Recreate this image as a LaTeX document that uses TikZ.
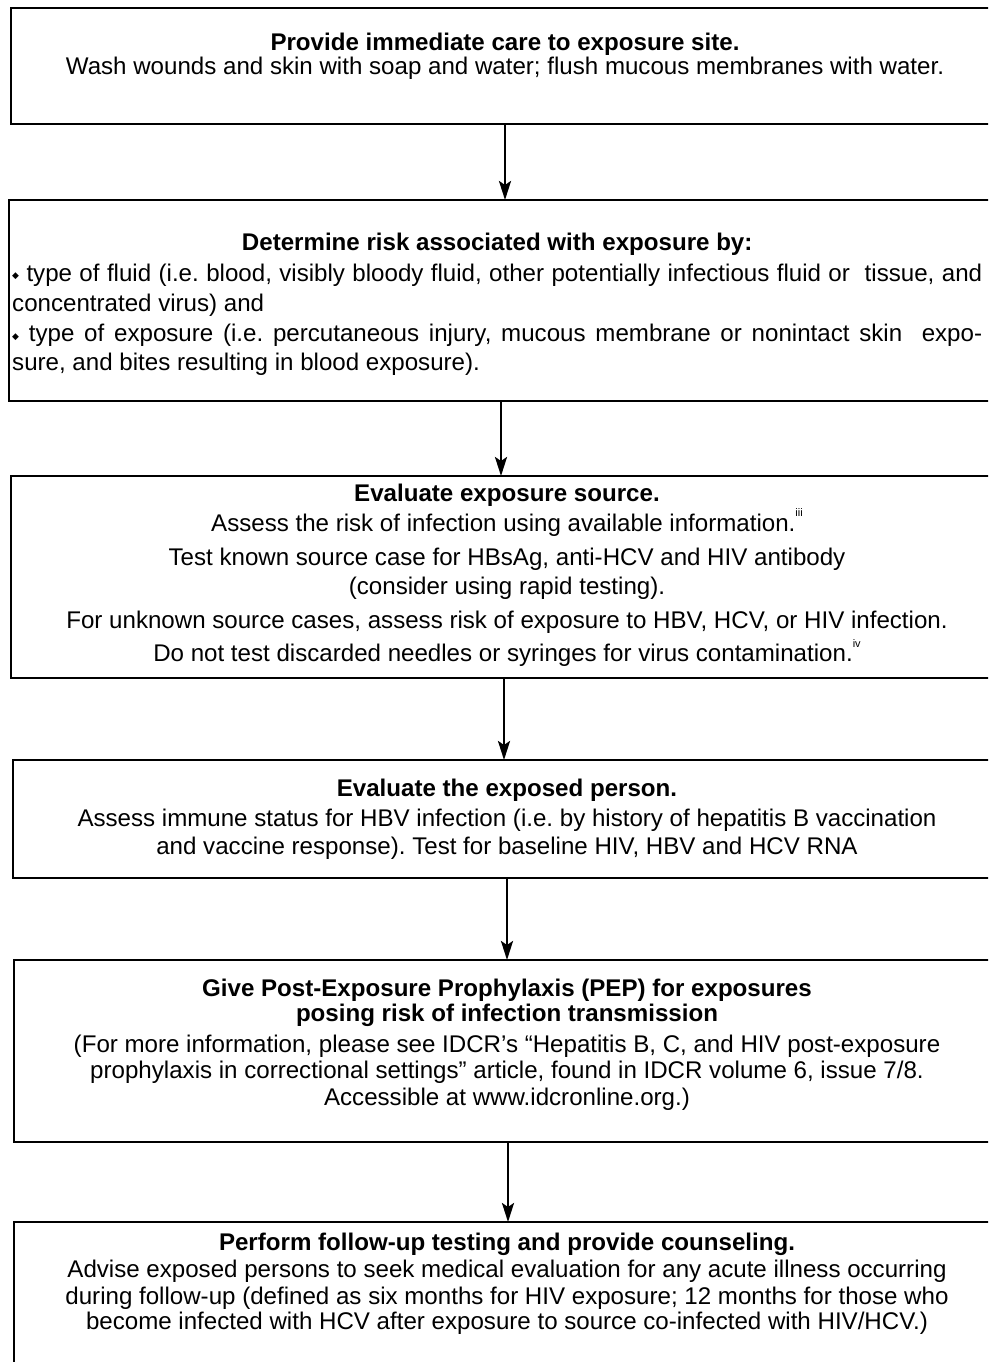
\documentclass[tikz,border=0pt]{standalone}
\usepackage{fontspec}
\setmainfont{Liberation Sans}
\newfontfamily\dejavu{DejaVu Sans}
\usetikzlibrary{arrows.meta}
\frenchspacing
\newcommand\bul{{\dejavu\fontsize{9}{9}\selectfont\raisebox{0.25em}{◆}}}
\newcommand\supr[1]{\smash{\raisebox{0.6em}{\fontsize{11}{11}\selectfont #1}}}
\begin{document}
\begin{tikzpicture}[x=1bp,y=-1bp,
  box/.style={draw, line width=2bp, inner sep=0pt, outer sep=0pt, rectangle},
  txt/.style={inner sep=0pt, font=\fontsize{24.2}{25}\selectfont\frenchspacing, align=center, anchor=north},
  arr/.style={line width=2.5bp, -{Stealth[length=19bp,width=12bp,inset=4bp]}}]
\useasboundingbox (0,0) rectangle (988,1362);
\clip (0,0) rectangle (988,1362);
\fill[white] (0,0) rectangle (988,1362);
% boxes
\node[box, minimum width=989bp, minimum height=116bp] (b1) at (505.5,66) {};
\node[box, minimum width=991bp, minimum height=201bp] (b2) at (504.5,300.5) {};
\node[box, minimum width=989bp, minimum height=202bp] (b3) at (505.5,577) {};
\node[box, minimum width=987bp, minimum height=118bp] (b4) at (506.5,819) {};
\node[box, minimum width=986bp, minimum height=182bp] (b5) at (507,1051) {};
\node[box, minimum width=986bp, minimum height=178bp] (b6) at (507,1311) {};
% texts
\node[txt] (t1) at (505,31) {\rule{0pt}{19bp}{\bfseries Provide immediate care to exposure site.}\\[-1bp]
Wash wounds and skin with soap and water; flush mucous membranes with water.};
\node[txt, anchor=north west, align=left] (t2) at (12,231) {\rule{0pt}{19bp}\makebox[970bp]{\bfseries Determine risk associated with exposure by:}\\[6bp]
\makebox[970bp][s]{\bul\ type of fluid (i.e. blood, visibly bloody fluid, other potentially infectious fluid or\ \ tissue, and}\\[5bp]
concentrated virus) and\\[6bp]
\makebox[970bp][s]{\bul\ type of exposure (i.e. percutaneous injury, mucous membrane or nonintact skin\ \ expo-}\\[4bp]
sure, and bites resulting in blood exposure).};
\node[txt] (t3) at (507,482) {\rule{0pt}{19bp}{\bfseries Evaluate exposure source.}\\[5bp]
Assess the risk of infection using available information.\supr{iii}\\[9bp]
Test known source case for HBsAg, anti-HCV and HIV antibody\\[5bp]
(consider using rapid testing).\\[9bp]
For unknown source cases, assess risk of exposure to HBV, HCV, or HIV infection.\\[8bp]
Do not test discarded needles or syringes for virus contamination.\supr{iv}};
\node[txt] (t4) at (507,777) {\rule{0pt}{19bp}{\bfseries Evaluate the exposed person.}\\[5bp]
Assess immune status for HBV infection (i.e. by history of hepatitis B vaccination\\[3bp]
and vaccine response). Test for baseline HIV, HBV and HCV RNA};
\node[txt] (t5) at (507,977) {\rule{0pt}{19bp}{\bfseries Give Post-Exposure Prophylaxis (PEP) for exposures}\\
{\bfseries posing risk of infection transmission}\\[6bp]
(For more information, please see IDCR’s “Hepatitis B, C, and HIV post-exposure\\[2bp]
prophylaxis in correctional settings” article, found in IDCR volume 6, issue 7/8.\\[2bp]
Accessible at www.idcronline.org.)};
\node[txt] (t6) at (507,1231) {\rule{0pt}{19bp}{\bfseries Perform follow-up testing and provide counseling.}\\[2bp]
Advise exposed persons to seek medical evaluation for any acute illness occurring\\[2bp]
during follow-up (defined as six months for HIV exposure; 12 months for those who\\[1bp]
become infected with HCV after exposure to source co-infected with HIV/HCV.)};
% arrows
\coordinate (x1) at (505,0);
\coordinate (x2) at (501,0);
\coordinate (x3) at (504,0);
\coordinate (x4) at (507,0);
\coordinate (x5) at (508,0);
\draw[arr] (b1.south -| x1) -- (b2.north -| x1);
\draw[arr] (b2.south -| x2) -- (b3.north -| x2);
\draw[arr] (b3.south -| x3) -- (b4.north -| x3);
\draw[arr] (b4.south -| x4) -- (b5.north -| x4);
\draw[arr] (b5.south -| x5) -- (b6.north -| x5);
\end{tikzpicture}
\end{document}
